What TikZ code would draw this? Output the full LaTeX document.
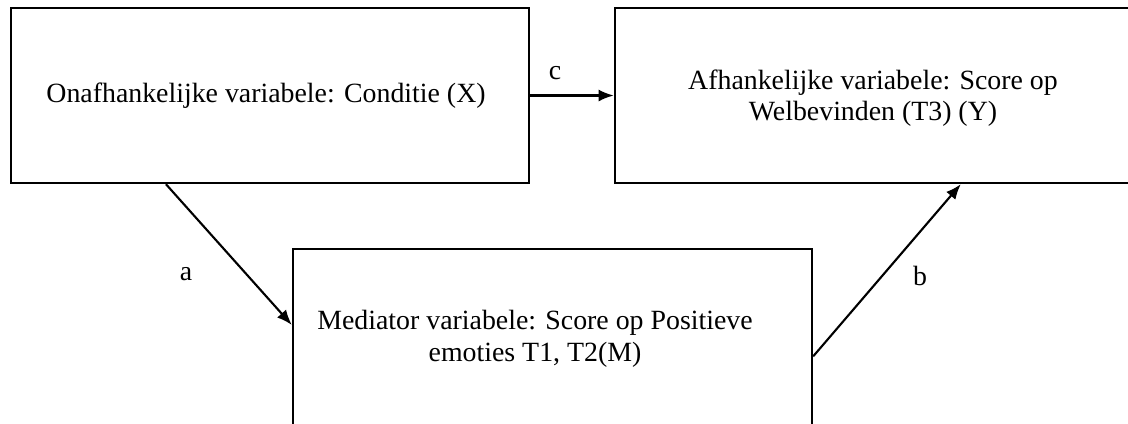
\documentclass[tikz,border=0pt]{standalone}
\usepackage{fontspec}
\setmainfont{Liberation Serif}
\usetikzlibrary{arrows.meta,calc}
\begin{document}
\begin{tikzpicture}[x=0.025cm,y=-0.025cm,
  box/.style={draw,line width=1.6pt,rectangle,inner sep=0pt},
  txt/.style={font=\fontsize{19.8}{22.5}\selectfont,align=center},
  arr/.style={line width=1.5pt,-{Latex[length=0.38cm,width=0.3cm]}},
  lab/.style={font=\fontsize{19.8}{22.5}\selectfont}]
\useasboundingbox (0,0) rectangle (1128,423);
\clip (0,0) rectangle (1128,423);
% boxes
\node[box,minimum width=12.95cm,minimum height=4.375cm] (X) at (270,95.5) {};
\node[box,minimum width=13.025cm,minimum height=4.375cm] (Y) at (875.5,95.5) {};
\node[box,minimum width=12.975cm,minimum height=4.425cm] (M) at (552.5,337.5) {};
% texts
\node[txt] (tX) at (266,96) {Onafhankelijke variabele: Conditie (X)};
\node[txt] (tY) at (873,98) {Afhankelijke variabele: Score op\\Welbevinden (T3) (Y)};
\node[txt] (tM) at (535,339) {Mediator variabele: Score op Positieve\\emoties T1, T2(M)};
% connectors
\draw[arr] (X.east) -- (X.east -| Y.west);
\draw[arr] ($(X.south west)!0.30!(X.south east)$) -- ($(M.north west)!0.43!(M.south west)$);
\draw[arr] ($(M.north east)!0.605!(M.south east)$) -- ($(Y.south west)!0.663!(Y.south east)$);
% labels
\node[lab] (lc) at (555,73) {c};
\node[lab] (la) at (186,274) {a};
\node[lab] (lb) at (920,276) {b};
\end{tikzpicture}
\end{document}
